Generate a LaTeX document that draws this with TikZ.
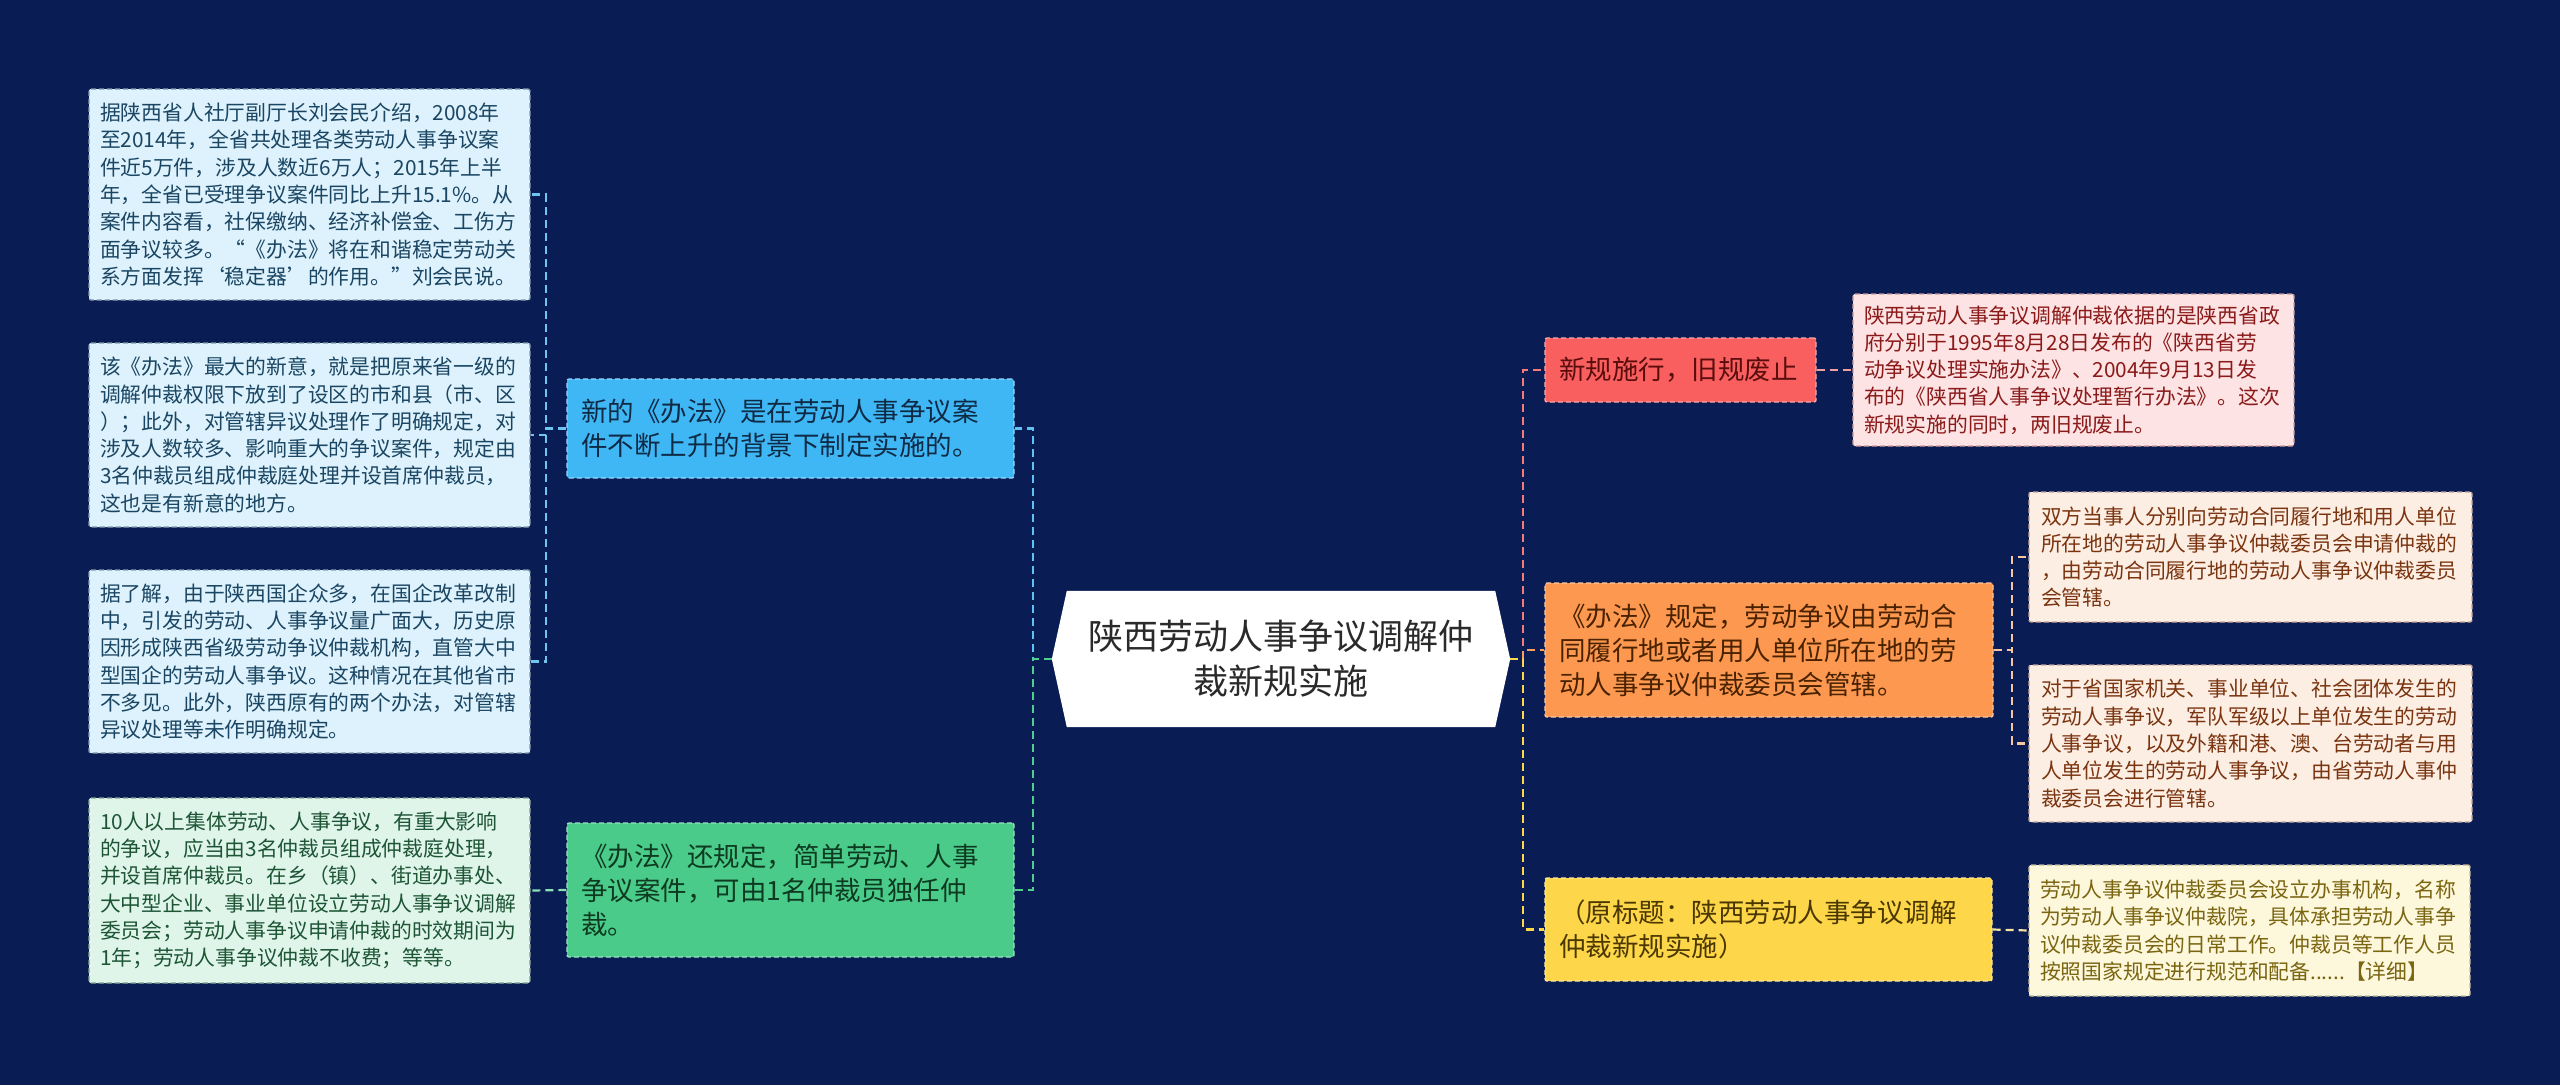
\documentclass[tikz,border=0pt]{standalone}
\usepackage{fontspec}
\setmainfont{Noto Sans CJK SC}
\usetikzlibrary{backgrounds}
\definecolor{bg}{HTML}{0A1C54}
\definecolor{lbFill}{HTML}{DDF2FC}\definecolor{lbText}{HTML}{1B4663}
\definecolor{lgFill}{HTML}{DFF5EA}\definecolor{lgText}{HTML}{1D5535}
\definecolor{bFill}{HTML}{3FB7F4}\definecolor{bText}{HTML}{0F2A45}
\definecolor{gFill}{HTML}{4ACB8A}\definecolor{gText}{HTML}{0D3A20}
\definecolor{rFill}{HTML}{F95F5F}\definecolor{rText}{HTML}{5A0D0D}
\definecolor{rlFill}{HTML}{FDE3E3}\definecolor{rlText}{HTML}{8B1A1A}
\definecolor{oFill}{HTML}{FD9850}\definecolor{oText}{HTML}{4A2200}
\definecolor{olFill}{HTML}{FDEEE4}\definecolor{olText}{HTML}{7A3510}
\definecolor{yFill}{HTML}{FDD64A}\definecolor{yText}{HTML}{4A3800}
\definecolor{ylFill}{HTML}{FDF7DC}\definecolor{ylText}{HTML}{7A6510}
\definecolor{rootText}{HTML}{2A2A2A}
\definecolor{cB}{HTML}{5EC3F2}\definecolor{cG}{HTML}{4FCF8E}
\definecolor{cR}{HTML}{F77A7A}\definecolor{cO}{HTML}{FCA060}
\definecolor{cY}{HTML}{FDD64A}
\definecolor{cRL}{HTML}{F0A0A0}\definecolor{cOL}{HTML}{F7C5A0}
\definecolor{cYL}{HTML}{F5E3A0}\definecolor{cBL}{HTML}{6EC6F0}
\definecolor{cGL}{HTML}{8ADFB5}
\tikzset{
  boxbase/.style={rectangle, rounded corners=2pt, line width=1.3pt,
    dash pattern=on 5pt off 3pt, anchor=center, align=left, inner ysep=6pt},
  leafbox/.style={boxbase, inner xsep=11pt, text width=419pt, minimum width=441pt,
    font=\fontsize{20.8}{27.3}\selectfont},
  branchbox/.style={boxbase, inner xsep=14pt, font=\fontsize{26.5}{34}\selectfont},
  conn/.style={line width=2.2pt, dash pattern=on 8pt off 5pt},
}
\begin{document}
\begin{tikzpicture}[x=1pt,y=-1pt]
\useasboundingbox (0,0) rectangle (2560,1085);
% left leaves
\node[leafbox, fill=lbFill, draw=lbText!55, text=lbText, minimum height=211pt] (L1) at (309.5,194.5)
 {据陕西省人社厅副厅长刘会民介绍，2008年\\至2014年，全省共处理各类劳动人事争议案\\件近5万件，涉及人数近6万人；2015年上半\\年，全省已受理争议案件同比上升15.1\%。从\\案件内容看，社保缴纳、经济补偿金、工伤方\\面争议较多。“《办法》将在和谐稳定劳动关\\系方面发挥‘稳定器’的作用。”刘会民说。};
\node[leafbox, fill=lbFill, draw=lbText!55, text=lbText, minimum height=184pt] (L2) at (309.5,435)
 {该《办法》最大的新意，就是把原来省一级的\\调解仲裁权限下放到了设区的市和县（市、区\\）；此外，对管辖异议处理作了明确规定，对\\涉及人数较多、影响重大的争议案件，规定由\\3名仲裁员组成仲裁庭处理并设首席仲裁员，\\这也是有新意的地方。};
\node[leafbox, fill=lbFill, draw=lbText!55, text=lbText, minimum height=183pt] (L3) at (309.5,661.5)
 {据了解，由于陕西国企众多，在国企改革改制\\中，引发的劳动、人事争议量广面大，历史原\\因形成陕西省级劳动争议仲裁机构，直管大中\\型国企的劳动人事争议。这种情况在其他省市\\不多见。此外，陕西原有的两个办法，对管辖\\异议处理等未作明确规定。};
\node[leafbox, fill=lgFill, draw=lgText!55, text=lgText, minimum height=185pt] (L4) at (309.5,890.5)
 {10人以上集体劳动、人事争议，有重大影响\\的争议，应当由3名仲裁员组成仲裁庭处理，\\并设首席仲裁员。在乡（镇）、街道办事处、\\大中型企业、事业单位设立劳动人事争议调解\\委员会；劳动人事争议申请仲裁的时效期间为\\1年；劳动人事争议仲裁不收费；等等。};
% left branches
\node[branchbox, fill=bFill, draw=bFill!55!white, text=bText, minimum width=447pt, text width=419pt, minimum height=99pt] (B1) at (790.5,428.5)
 {新的《办法》是在劳动人事争议案\\件不断上升的背景下制定实施的。};
\node[branchbox, fill=gFill, draw=gFill!55!white, text=gText, minimum width=447pt, text width=419pt, minimum height=134pt] (B2) at (790.5,890)
 {《办法》还规定，简单劳动、人事\\争议案件，可由1名仲裁员独任仲\\裁。};
% root
\node[align=center, text=rootText, font=\fontsize{35}{45}\selectfont, minimum width=458pt, minimum height=136pt, inner sep=0pt] (root) at (1281,659)
 {陕西劳动人事争议调解仲\\裁新规实施};
% right branches
\node[branchbox, fill=rFill, draw=rFill!55!white, text=rText, minimum width=271pt, text width=243pt, minimum height=64pt] (R1) at (1680.5,370)
 {新规施行，旧规废止};
\node[branchbox, fill=oFill, draw=oFill!55!white, text=oText, minimum width=448pt, text width=420pt, minimum height=134pt] (R2) at (1769,650)
 {《办法》规定，劳动争议由劳动合\\同履行地或者用人单位所在地的劳\\动人事争议仲裁委员会管辖。};
\node[branchbox, fill=yFill, draw=yFill!55!white, text=yText, minimum width=447pt, text width=419pt, minimum height=103pt] (R3) at (1768.5,929.5)
 {（原标题：陕西劳动人事争议调解\\仲裁新规实施）};
% right leaves
\node[leafbox, fill=rlFill, draw=rlText!45, text=rlText, minimum height=152pt] (R1L) at (2073.5,370)
 {陕西劳动人事争议调解仲裁依据的是陕西省政\\府分别于1995年8月28日发布的《陕西省劳\\动争议处理实施办法》、2004年9月13日发\\布的《陕西省人事争议处理暂行办法》。这次\\新规实施的同时，两旧规废止。};
\node[leafbox, fill=olFill, draw=olText!45, text=olText, minimum width=443pt, minimum height=130pt] (R2a) at (2250.5,557)
 {双方当事人分别向劳动合同履行地和用人单位\\所在地的劳动人事争议仲裁委员会申请仲裁的\\，由劳动合同履行地的劳动人事争议仲裁委员\\会管辖。};
\node[leafbox, fill=olFill, draw=olText!45, text=olText, minimum width=443pt, minimum height=157pt] (R2b) at (2250.5,743.5)
 {对于省国家机关、事业单位、社会团体发生的\\劳动人事争议，军队军级以上单位发生的劳动\\人事争议，以及外籍和港、澳、台劳动者与用\\人单位发生的劳动人事争议，由省劳动人事仲\\裁委员会进行管辖。};
\node[leafbox, fill=ylFill, draw=ylText!45, text=ylText, minimum height=131pt] (R3L) at (2249.5,930.5)
 {劳动人事争议仲裁委员会设立办事机构，名称\\为劳动人事争议仲裁院，具体承担劳动人事争\\议仲裁委员会的日常工作。仲裁员等工作人员\\按照国家规定进行规范和配备......【详细】};
\begin{pgfonlayer}{background}
  \fill[bg] (0,0) rectangle (2560,1085);
  \fill[white] (root.west) -- ([xshift=15pt]root.north west) -- ([xshift=-15pt]root.north east)
    -- (root.east) -- ([xshift=-15pt]root.south east) -- ([xshift=15pt]root.south west) -- cycle;
\end{pgfonlayer}
% connectors root -> branches
\draw[conn, cB] (root.west) -- ++(-19,0) |- (B1.east);
\draw[conn, cG] (root.west) -- ++(-19,0) |- (B2.east);
\draw[conn, cR] (root.east) -- ++(13,0) |- (R1.west);
\draw[conn, cO] (root.east) -- ++(13,0) |- (R2.west);
\draw[conn, cY] (root.east) -- ++(13,0) |- (R3.west);
% branches -> leaves
\draw[conn, cBL] (B1.west) -- ++(-20,0) |- (L1.east);
\draw[conn, cBL] (B1.west) -- ++(-20,0) |- (L2.east);
\draw[conn, cBL] (B1.west) -- ++(-20,0) |- (L3.east);
\draw[conn, cGL] (B2.west) -- (L4.east);
\draw[conn, cRL] (R1.east) -- (R1L.west);
\draw[conn, cOL] (R2.east) -- ++(18,0) |- (R2a.west);
\draw[conn, cOL] (R2.east) -- ++(18,0) |- (R2b.west);
\draw[conn, cYL] (R3.east) -- (R3L.west);
\end{tikzpicture}
\end{document}
